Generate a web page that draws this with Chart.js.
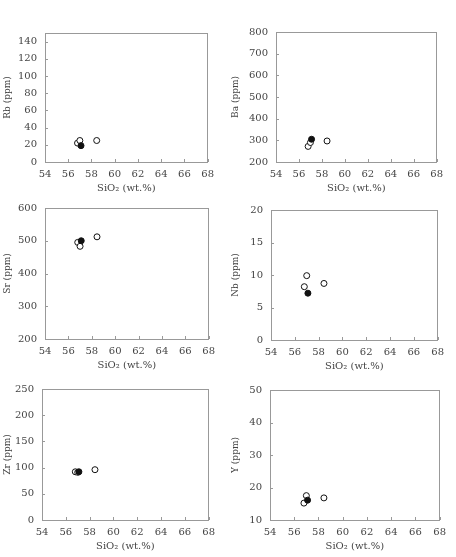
<!DOCTYPE html>
<html>
<head>
<meta charset="utf-8">
<script src="https://cdn.jsdelivr.net/npm/chart.js@4"></script>
<style>
  body { margin: 0; background: #fff; }
  #wrap { position: relative; width: 456px; height: 557px; overflow: hidden; }
  #wrap canvas { position: absolute; }
</style>
</head>
<body>
<div id="wrap"></div>
<script>
// SiO2 of the four samples, the third one is the filled symbol
const siO2 = [56.8, 57.0, 57.1, 58.45];
const filled = [false, false, true, false];

const rb = [22, 25, 19, 25];
const ba = [272, 290, 305, 297];
const sr = [495, 483, 500, 512];
const nb = [8.2, 9.9, 7.2, 8.7];
const zr = [92, 91, 92, 96];
const yy = [15.2, 17.5, 16.1, 16.8];

const xTicks = [54, 56, 58, 60, 62, 64, 66, 68];
const rbTicks = [0, 20, 40, 60, 80, 100, 120, 140];
const baTicks = [200, 300, 400, 500, 600, 700, 800];
const srTicks = [200, 300, 400, 500, 600];
const nbTicks = [0, 5, 10, 15, 20];
const zrTicks = [0, 50, 100, 150, 200, 250];
const yTicks = [10, 20, 30, 40, 50];

// plot boxes: [left, top, right, bottom], col = canvas left edge
const panels = [
  { name: "Rb (ppm)", values: rb, ticks: rbTicks, min: 0, max: 150, col: 0, box: [45, 31, 208, 162] },
  { name: "Ba (ppm)", values: ba, ticks: baTicks, min: 200, max: 800, col: 228, box: [276, 30, 437, 162] },
  { name: "Sr (ppm)", values: sr, ticks: srTicks, min: 200, max: 600, col: 0, box: [45, 206, 209, 339] },
  { name: "Nb (ppm)", values: nb, ticks: nbTicks, min: 0, max: 20, col: 228, box: [271, 208, 438, 340] },
  { name: "Zr (ppm)", values: zr, ticks: zrTicks, min: 0, max: 250, col: 0, box: [42, 387, 209, 520] },
  { name: "Y (ppm)", values: yy, ticks: yTicks, min: 10, max: 50, col: 228, box: [270, 388, 440, 520] }
];

const FONT = "'DejaVu Serif', serif";
const TOP = 12, RIGHT = 12, BOTTOM = 32;

// small inward tick marks
const innerTicks = {
  id: "innerTicks",
  afterDraw(chart) {
    const ctx = chart.ctx, a = chart.chartArea;
    const xs = chart.scales.x, ys = chart.scales.y;
    ctx.save();
    ctx.strokeStyle = "#999";
    ctx.lineWidth = 1;
    ctx.beginPath();
    xs.ticks.forEach(t => {
      const px = Math.round(xs.getPixelForValue(t.value)) + 0.5;
      ctx.moveTo(px, a.bottom);
      ctx.lineTo(px, a.bottom - 3);
    });
    ys.ticks.forEach(t => {
      const py = Math.round(ys.getPixelForValue(t.value)) + 0.5;
      ctx.moveTo(a.left, py);
      ctx.lineTo(a.left + 3, py);
    });
    ctx.stroke();
    ctx.restore();
  }
};

const wrap = document.getElementById("wrap");

panels.forEach(p => {
  const [l, t, r, b] = p.box;
  const left = l - p.col;
  const cv = document.createElement("canvas");
  const w = (r - l) + left + RIGHT, h = (b - t) + TOP + BOTTOM;
  cv.style.left = p.col + "px";
  cv.style.top = (t - TOP) + "px";
  cv.style.width = w + "px";
  cv.style.height = h + "px";
  cv.width = w; cv.height = h;
  wrap.appendChild(cv);

  new Chart(cv, {
    type: "scatter",
    data: {
      datasets: [{
        data: siO2.map((x, i) => ({ x: x, y: p.values[i] })),
        pointRadius: 3,
        pointBorderWidth: 1,
        pointBorderColor: "#111",
        pointBackgroundColor: filled.map(f => f ? "#111" : "#fff")
      }]
    },
    options: {
      responsive: false,
      animation: false,
      layout: { padding: { top: TOP, right: RIGHT, left: 0, bottom: 0 } },
      plugins: { legend: { display: false }, tooltip: { enabled: false } },
      scales: {
        x: {
          type: "linear",
          min: 54, max: 68,
          afterBuildTicks: s => { s.ticks = xTicks.map(v => ({ value: v })); },
          afterFit: s => { s.height = BOTTOM; },
          grid: { display: false, drawTicks: false },
          border: { display: true, color: "#999" },
          ticks: { padding: 6, color: "#444", font: { family: FONT, size: 10 }, maxRotation: 0 },
          title: { display: true, text: "SiO₂ (wt.%)", padding: 0, color: "#444", font: { family: FONT, size: 10 } }
        },
        y: {
          min: p.min, max: p.max,
          afterBuildTicks: s => { s.ticks = p.ticks.map(v => ({ value: v })); },
          ticks: { padding: 8, color: "#444", font: { family: FONT, size: 10 } },
          afterFit: s => { s.width = left; },
          grid: { display: false, drawTicks: false },
          border: { display: true, color: "#999" },
          title: { display: true, text: p.name, padding: { top: 2, bottom: 0 }, color: "#444", font: { family: FONT, size: 9 } }
        },
        x2: {
          type: "linear", position: "top", display: true,
          grid: { display: false, drawTicks: false }, ticks: { display: false },
          border: { display: true, color: "#999" }
        },
        y2: {
          type: "linear", position: "right", display: true,
          grid: { display: false, drawTicks: false }, ticks: { display: false },
          border: { display: true, color: "#999" }
        }
      }
    },
    plugins: [innerTicks]
  });
});
</script>
</body>
</html>
